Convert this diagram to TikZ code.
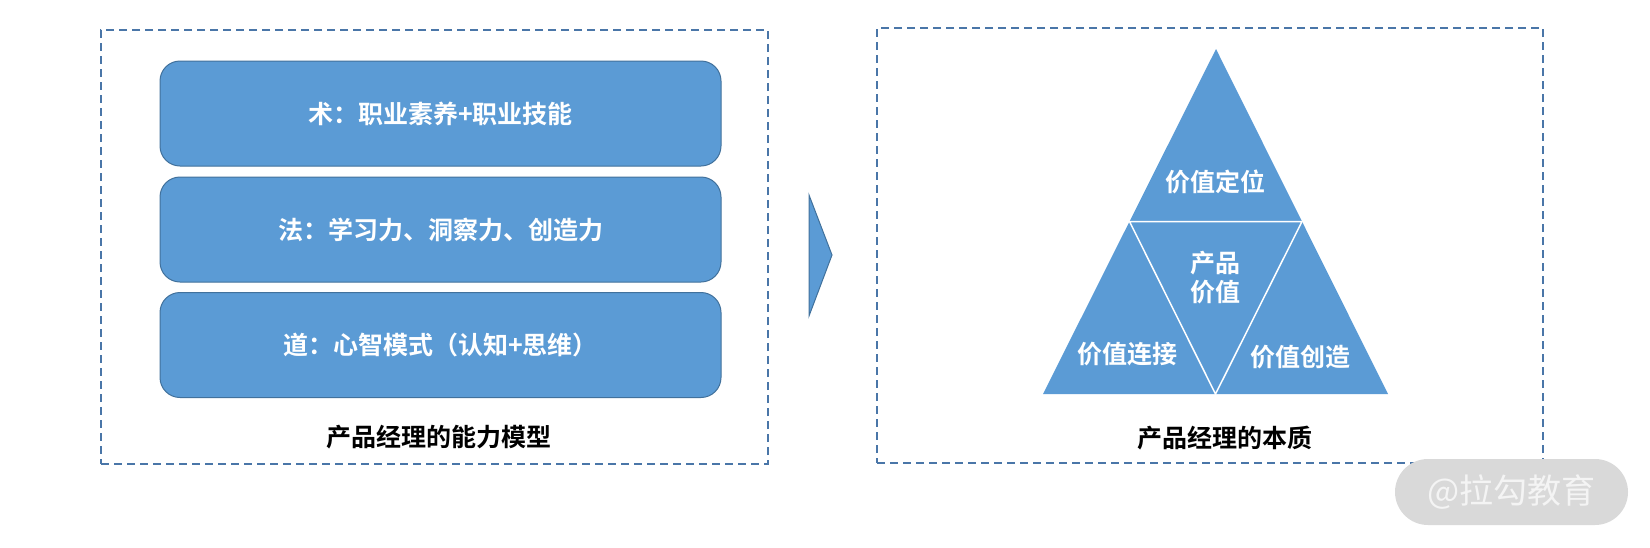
\documentclass[tikz,border=0pt]{standalone}
\usepackage{fontspec}
\setmainfont{Noto Sans CJK SC}[BoldFont={Noto Sans CJK SC Bold}]
\usetikzlibrary{calc}
\definecolor{fillblue}{HTML}{5B9BD5}
\definecolor{edgeblue}{HTML}{41719C}
\definecolor{dashblue}{HTML}{4A76A8}
\definecolor{wmgray}{HTML}{D9D9D9}
\definecolor{wmtext}{HTML}{F4F4F4}
\tikzset{
  dashbox/.style={draw=dashblue, line width=1.2pt, dash pattern=on 8pt off 5pt, inner sep=0pt},
  blockbox/.style={draw=edgeblue, line width=1pt, fill=fillblue, rounded corners=20pt,
    minimum width=561pt, minimum height=105pt, inner sep=0pt, text=white,
    font=\bfseries\fontsize{25}{29}\selectfont},
  tritext/.style={text=white, align=center, inner sep=0pt, font=\bfseries\fontsize{25}{29}\selectfont},
  caption/.style={text=black, inner sep=0pt, font=\bfseries\fontsize{25}{29}\selectfont},
  arrowshape/.style={fill=fillblue, draw=edgeblue, line width=1pt, line join=miter},
  watermark/.style={fill=wmgray, rounded corners=33pt, minimum width=233pt, minimum height=66pt,
    inner sep=0pt, text=wmtext, font=\fontsize{34}{40}\selectfont}
}
\begin{document}
\begin{tikzpicture}[x=1pt,y=-1pt]
\useasboundingbox (0,0) rectangle (1650,547);
% left panel
\node[dashbox, minimum width=667pt, minimum height=434pt] (leftbox) at (434.5,247) {};
\node[blockbox] (shu) at (440.5,113.5) {术：职业素养+职业技能};
\node[blockbox] (fa) at (440.5,229.5) {法：学习力、洞察力、创造力};
\node[blockbox] (dao) at (440.5,345) {道：心智模式（认知+思维）};
\node[caption] (leftcap) at (439,437) {产品经理的能力模型};
% arrow
\coordinate (arrtop) at (809,195);
\coordinate (arrtip) at (832,255);
\coordinate (arrbot) at (809,316);
\draw[arrowshape] (arrtop) -- (arrtip) -- (arrbot) -- cycle;
% right panel
\node[dashbox, minimum width=666pt, minimum height=435pt] (rightbox) at (1210,245.5) {};
\coordinate (apex) at (1216,49);
\coordinate (bl) at (1043,394);
\coordinate (br) at (1388,394);
\coordinate (ml) at ($(apex)!0.5!(bl)$);
\coordinate (mr) at ($(apex)!0.5!(br)$);
\coordinate (bm) at ($(bl)!0.5!(br)$);
\fill[fillblue] (apex) -- (bl) -- (br) -- cycle;
\draw[white, line width=1.5pt, line join=miter] (ml) -- (mr) -- (bm) -- cycle;
\node[tritext] (dingwei) at (1215,182) {价值定位};
\node[tritext] (chanpin) at (1215,277.5) {产品\\价值};
\node[tritext] (lianjie) at (1127,354) {价值连接};
\node[tritext] (chuangzao) at (1300,357) {价值创造};
\node[caption] (rightcap) at (1225,438) {产品经理的本质};
% watermark
\node[watermark] (wm) at (1511.5,492) {@拉勾教育};
\end{tikzpicture}
\end{document}
